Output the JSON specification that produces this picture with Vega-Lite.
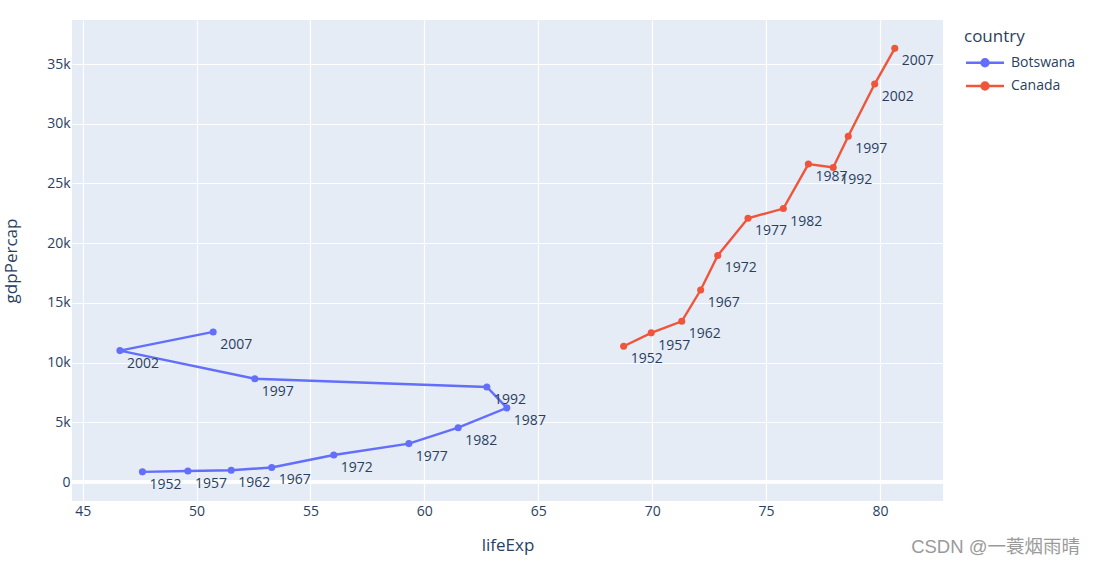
{
  "$schema": "https://vega.github.io/schema/vega-lite/v6.json",
  "width": 871,
  "height": 481,
  "autosize": {"type": "none"},
  "padding": {"left": 72, "top": 20, "right": 154, "bottom": 62},
  "background": "white",
  "title": {
    "text": "CSDN @一蓑烟雨晴",
    "orient": "bottom",
    "anchor": "end",
    "frame": "bounds",
    "font": "Liberation Sans, Noto Sans CJK SC",
    "fontSize": 18.5,
    "fontWeight": "normal",
    "color": "#9a9a9a",
    "offset": -15,
    "dx": -5
  },
  "data": {
    "values": [
      {"country": "Botswana", "year": 1952, "lifeExp": 47.622, "gdpPercap": 851.24},
      {"country": "Botswana", "year": 1957, "lifeExp": 49.618, "gdpPercap": 918.23},
      {"country": "Botswana", "year": 1962, "lifeExp": 51.52, "gdpPercap": 983.65},
      {"country": "Botswana", "year": 1967, "lifeExp": 53.298, "gdpPercap": 1214.71},
      {"country": "Botswana", "year": 1972, "lifeExp": 56.024, "gdpPercap": 2263.61},
      {"country": "Botswana", "year": 1977, "lifeExp": 59.319, "gdpPercap": 3214.86},
      {"country": "Botswana", "year": 1982, "lifeExp": 61.484, "gdpPercap": 4551.14},
      {"country": "Botswana", "year": 1987, "lifeExp": 63.622, "gdpPercap": 6205.88},
      {"country": "Botswana", "year": 1992, "lifeExp": 62.745, "gdpPercap": 7954.11},
      {"country": "Botswana", "year": 1997, "lifeExp": 52.556, "gdpPercap": 8647.14},
      {"country": "Botswana", "year": 2002, "lifeExp": 46.634, "gdpPercap": 11003.61},
      {"country": "Botswana", "year": 2007, "lifeExp": 50.728, "gdpPercap": 12569.85},
      {"country": "Canada", "year": 1952, "lifeExp": 68.75, "gdpPercap": 11367.16},
      {"country": "Canada", "year": 1957, "lifeExp": 69.96, "gdpPercap": 12489.95},
      {"country": "Canada", "year": 1962, "lifeExp": 71.3, "gdpPercap": 13462.49},
      {"country": "Canada", "year": 1967, "lifeExp": 72.13, "gdpPercap": 16076.59},
      {"country": "Canada", "year": 1972, "lifeExp": 72.88, "gdpPercap": 18970.57},
      {"country": "Canada", "year": 1977, "lifeExp": 74.21, "gdpPercap": 22090.88},
      {"country": "Canada", "year": 1982, "lifeExp": 75.76, "gdpPercap": 22898.79},
      {"country": "Canada", "year": 1987, "lifeExp": 76.86, "gdpPercap": 26626.52},
      {"country": "Canada", "year": 1992, "lifeExp": 77.95, "gdpPercap": 26342.88},
      {"country": "Canada", "year": 1997, "lifeExp": 78.61, "gdpPercap": 28954.93},
      {"country": "Canada", "year": 2002, "lifeExp": 79.77, "gdpPercap": 33328.97},
      {"country": "Canada", "year": 2007, "lifeExp": 80.653, "gdpPercap": 36319.24}
    ]
  },
  "encoding": {
    "x": {
      "field": "lifeExp",
      "type": "quantitative",
      "scale": {"domain": [44.53, 82.77], "nice": false, "zero": false},
      "axis": {
        "title": "lifeExp",
        "values": [45, 50, 55, 60, 65, 70, 75, 80],
        "titlePadding": 19
      }
    },
    "y": {
      "field": "gdpPercap",
      "type": "quantitative",
      "scale": {"domain": [-1591, 38693], "nice": false, "zero": false},
      "axis": {
        "title": "gdpPercap",
        "values": [0, 5000, 10000, 15000, 20000, 25000, 30000, 35000],
        "labelExpr": "datum.value == 0 ? '0' : format(datum.value / 1000, 'd') + 'k'",
        "titlePadding": 26
      }
    }
  },
  "layer": [
    {
      "mark": {"type": "rule", "color": "white", "strokeWidth": 2.4},
      "encoding": {"y": {"datum": 0}, "x": null}
    },
    {
      "mark": {"type": "line", "strokeWidth": 2.4},
      "encoding": {
        "color": {
          "field": "country",
          "type": "nominal",
          "scale": {"domain": ["Botswana", "Canada"], "range": ["#636EFA", "#EF553B"]},
          "legend": {"title": "country"}
        },
        "order": {"field": "year", "type": "quantitative"}
      }
    },
    {
      "mark": {"type": "point", "filled": true, "size": 50, "opacity": 1},
      "encoding": {
        "color": {"field": "country", "type": "nominal", "legend": {"title": "country"}}
      }
    },
    {
      "mark": {
        "type": "text",
        "align": "left",
        "baseline": "middle",
        "dx": 7,
        "dy": 13,
        "font": "Open Sans",
        "fontSize": 14,
        "color": "#2a3f5f"
      },
      "encoding": {"text": {"field": "year", "type": "nominal"}}
    }
  ],
  "config": {
    "view": {"fill": "#E5ECF6", "stroke": null},
    "axis": {
      "domain": false,
      "ticks": false,
      "grid": true,
      "gridColor": "white",
      "gridWidth": 1.2,
      "labelFont": "Open Sans",
      "labelFontSize": 14,
      "labelColor": "#2a3f5f",
      "labelPadding": 3,
      "titleFont": "Open Sans",
      "titleFontSize": 17,
      "titleFontWeight": "normal",
      "titleColor": "#2a3f5f"
    },
    "axisY": {"labelPadding": 2},
    "legend": {
      "orient": "right",
      "offset": 12,
      "padding": 9,
      "titleFont": "Open Sans",
      "titleFontSize": 17,
      "titleFontWeight": "normal",
      "titleColor": "#2a3f5f",
      "titlePadding": 9.7,
      "labelFont": "Open Sans",
      "labelFontSize": 14,
      "labelColor": "#2a3f5f",
      "labelOffset": 33,
      "rowPadding": 5.3,
      "symbolSize": 100,
      "symbolType": "M-1,0L6.6,0M3.5,0A0.7,0.7 0 1,1 2.1,0A0.7,0.7 0 1,1 3.5,0Z",
      "symbolStrokeWidth": 2.4,
      "symbolOpacity": 1,
      "symbolLimit": 0
    }
  }
}
